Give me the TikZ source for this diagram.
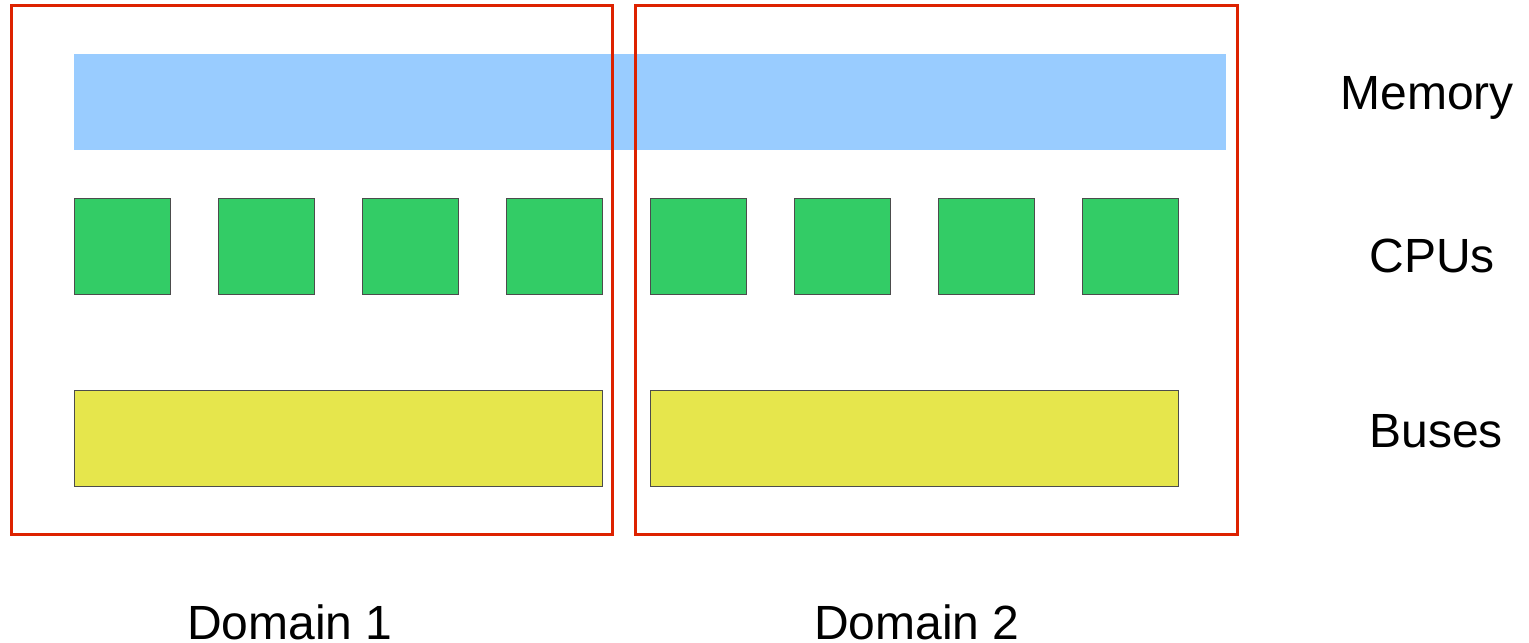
\documentclass[tikz,border=0pt]{standalone}
\usepackage{fontspec}
\setmainfont{Liberation Sans}
\definecolor{domred}{HTML}{DD2200}
\definecolor{memblue}{HTML}{99CCFF}
\definecolor{cpugreen}{HTML}{33CC66}
\definecolor{busyellow}{HTML}{E6E64C}
\tikzset{
  domainbox/.style={draw=domred, line width=1.5pt},
  membox/.style={fill=memblue},
  cpubox/.style={fill=cpugreen, draw=black!70, line width=0.5pt},
  busbox/.style={fill=busyellow, draw=black!70, line width=0.5pt},
  lbl/.style={font=\fontsize{24}{28}\selectfont, inner sep=0pt, anchor=base},
}
\begin{document}
\begin{tikzpicture}[x=0.5pt,y=-0.5pt]
\useasboundingbox (0,0) rectangle (1529,642);
% memory
\fill[membox] (74,54) rectangle (1226,150);
% CPUs
\foreach \i in {0,...,7} {
  \draw[cpubox] ({74+144*\i},198) rectangle ({170+144*\i},294);
}
% buses
\draw[busbox] (74,390) rectangle (602,486);
\draw[busbox] (650,390) rectangle (1178,486);
% domains
\draw[domainbox] (11,6) rectangle (612,534);
\draw[domainbox] (635,6) rectangle (1237,534);
% labels
\node[lbl] (mem) at (1427,110) {Memory};
\node[lbl] (cpu) at (1432,272) {CPUs};
\node[lbl] (bus) at (1436,447) {Buses};
\node[lbl] (d1) at (290,639) {Domain 1};
\node[lbl] (d2) at (917,639) {Domain 2};
\end{tikzpicture}
\end{document}
